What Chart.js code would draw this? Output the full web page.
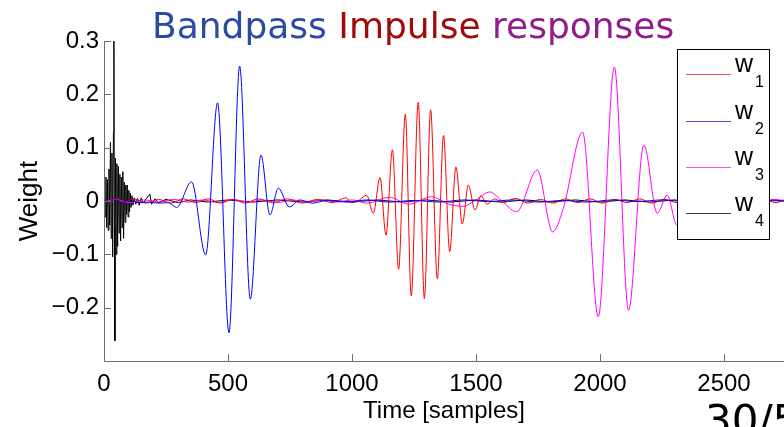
<!DOCTYPE html>
<html>
<head>
<meta charset="utf-8">
<script src="https://cdn.jsdelivr.net/npm/chart.js@4.4.1/dist/chart.umd.min.js"></script>
<style>
  html, body { margin: 0; padding: 0; background: #ffffff; }
  #wrap { position: relative; width: 784px; height: 427px; overflow: hidden; }
  canvas { display: block; }
</style>
</head>
<body>
<div id="wrap"><canvas id="c" width="784" height="427"></canvas></div>
<script>
// ---------------- data ----------------
const titleWords = ["Bandpass", "Impulse", "responses"];
const seriesNames = ["1", "2", "3", "4"];           // subscripts of w
const xTickValues = [0, 500, 1000, 1500, 2000, 2500];
const xTickLabels = ["0", "500", "1000", "1500", "2000", "2500"];
const yTickValues = [0.3, 0.2, 0.1, 0, -0.1, -0.2];
const yTickLabels = ["0.3", "0.2", "0.1", "0", "\u22120.1", "\u22120.2"];
const xAxisTitle = "Time [samples]";
const yAxisTitle = "Weight";
const pageNumber = "30/5";

// w1 (red)
const w1Samples = [0, 25, 50, 80, 120, 170, 220, 270, 320, 370, 420, 470, 520, 570, 620, 680, 740, 800, 860, 920, 975, 1000, 1030,
  1059, 1086, 1113, 1137, 1163, 1188, 1215, 1239, 1267, 1292, 1317, 1344, 1369, 1394, 1419, 1445, 1469, 1496,
  1520, 1545, 1575, 1610, 1660, 1710, 1760, 1810, 1860, 1910, 1960, 2010, 2060, 2110, 2160, 2210, 2260, 2310,
  2360, 2410, 2460, 2510, 2560, 2610, 2660, 2710, 2742];
const w1Values = [0.003, -0.004, 0.005, -0.003, 0.004, -0.004, 0.003, -0.004, 0.004, -0.003, 0.004, -0.004, 0.003, -0.004, 0.004, -0.003, 0.004, -0.004, 0.003, -0.003, 0.006, -0.003, 0.002,
  0.011, -0.023, 0.044, -0.064, 0.096, -0.128, 0.163, -0.178, 0.185, -0.183, 0.171, -0.146, 0.123, -0.095, 0.064, -0.043, 0.030, -0.017,
  0.010, -0.006, 0.004, -0.003, 0.005, -0.004, 0.003, -0.004, 0.004, -0.003, 0.004, -0.004, 0.003, -0.003, 0.004, -0.004, 0.003, -0.003,
  0.003, -0.004, 0.003, -0.003, 0.004, -0.003, 0.003, -0.003, 0.002];

// w2 (blue)
const w2Samples = [0, 20, 45, 70, 100, 140, 180, 220, 260, 293, 353, 410, 458, 504, 547, 590, 633, 669, 703, 747,
  790, 840, 900, 980, 1060, 1150, 1250, 1350, 1450, 1550, 1650, 1750, 1850, 1950, 2050, 2150, 2250, 2350, 2450, 2550, 2650, 2742];
const w2Values = [0.004, -0.003, 0.005, -0.004, 0.002, -0.003, -0.002, -0.004, -0.003, -0.012, 0.036, -0.101, 0.184, -0.247, 0.253, -0.184, 0.086, -0.026, 0.024, -0.011,
  0.002, -0.004, 0.001, -0.002, 0.002, -0.002, 0.001, -0.002, 0.002, -0.001, 0.002, -0.002, 0.001, -0.002, 0.002, -0.001, 0.002, -0.001, 0.001, -0.002, 0.001, 0.000];

// w3 (magenta)
const w3Samples = [0, 50, 100, 160, 220, 280, 340, 400, 460, 520, 580, 640, 700, 760, 820, 880, 940, 1000, 1060, 1150, 1230, 1320, 1390, 1448, 1500, 1556, 1600,
  1664, 1747, 1809, 1852, 1930, 1993, 2058, 2115, 2177, 2231, 2271, 2310, 2360, 2450, 2550, 2650, 2700, 2742];
const w3Values = [-0.002, 0.003, -0.003, 0.002, -0.002, 0.003, -0.002, 0.002, -0.003, 0.003, -0.002, 0.002, -0.003, 0.002, -0.002, 0.002, -0.002, 0.002, -0.004, 0.007, -0.006, 0.008, -0.006, -0.010, 0.002, 0.017, 0.002,
  -0.020, 0.058, -0.058, -0.014, 0.129, -0.217, 0.251, -0.205, 0.105, -0.023, 0.011, -0.045, 0.005, -0.003, 0.002, -0.002, 0.003, 0.001];

// w4 (black)
const w4Samples = [0, 2, 5, 8, 11, 14, 17, 20, 23, 26, 29, 32, 35, 38, 40, 42, 44, 46, 49, 52, 55, 58, 61, 64, 67, 70, 73, 76, 79, 82, 85, 88, 91, 94, 97, 100,
  103, 106, 109, 113, 117, 122, 128, 135, 142, 150, 158, 170, 185, 192, 205, 220, 250, 300, 350, 420, 500, 600, 700, 800, 900, 1000,
  1100, 1200, 1300, 1400, 1500, 1600, 1700, 1800, 1900, 2000, 2100, 2200, 2300, 2400, 2500, 2600, 2700, 2742];
const w4Values = [0.000, 0.035, -0.030, 0.045, -0.050, 0.040, -0.055, 0.060, -0.045, 0.110, -0.070, 0.090, -0.105, 0.130, 0.300, -0.050, -0.262, 0.080, -0.100, 0.070, -0.085, 0.065, -0.060, 0.050, -0.075, 0.045, -0.050, 0.055, -0.070, 0.035, -0.040, 0.030, -0.025, 0.030, -0.030, 0.020,
  -0.020, 0.015, -0.012, 0.010, -0.008, 0.006, -0.006, 0.005, -0.008, 0.006, -0.004, 0.004, 0.013, -0.006, 0.004, -0.003, 0.003, -0.003, 0.002, -0.002, 0.002, -0.002, 0.002, -0.002, 0.002, -0.002,
  0.002, -0.002, 0.002, -0.002, 0.002, -0.002, 0.002, -0.002, 0.002, -0.002, 0.002, -0.002, 0.002, -0.002, 0.002, -0.002, 0.002, 0.000];

const seriesColors = ["#ff0000", "#0000ff", "#ff00ff", "#000000"];
const titleColors = ["#2b4aa2", "#a10a0a", "#921c8c"];

function pts(xs, ys) { return xs.map((x, i) => ({ x: x, y: ys[i] })); }

const X_MAX = 2742;
const AXIS_GRAY = "#6e6e6e";
const TICK_FONT = "'Liberation Sans', Arial, sans-serif";

// -------- plugin: axes with inward ticks, legend box, title, page number --------
const decor = {
  id: "decor",
  afterDatasetsDraw(chart) {
    const ctx = chart.ctx;
    const xs = chart.scales.x, ys = chart.scales.y;
    const a = chart.chartArea;
    ctx.save();
    // axes
    ctx.strokeStyle = AXIS_GRAY;
    ctx.lineWidth = 1;
    ctx.beginPath();
    ctx.moveTo(a.left + 0.5, a.top);
    ctx.lineTo(a.left + 0.5, a.bottom + 0.5);
    ctx.lineTo(a.right, a.bottom + 0.5);
    ctx.stroke();
    ctx.beginPath();
    yTickValues.forEach(v => {
      const y = Math.round(ys.getPixelForValue(v)) + 0.5;
      ctx.moveTo(a.left, y); ctx.lineTo(a.left + 7, y);
    });
    xTickValues.forEach(v => {
      const x = Math.round(xs.getPixelForValue(v)) + 0.5;
      ctx.moveTo(x, a.bottom); ctx.lineTo(x, a.bottom - 7);
    });
    ctx.stroke();

    // legend box
    const lx = 677, ly = 49, lw = 92, lh = 190;
    ctx.fillStyle = "#ffffff";
    ctx.fillRect(lx, ly, lw, lh);
    ctx.strokeStyle = "#000000";
    ctx.strokeRect(lx + 0.5, ly + 0.5, lw, lh);
    const rowY = [74, 121, 167, 213];
    seriesNames.forEach((n, i) => {
      ctx.strokeStyle = seriesColors[i];
      ctx.globalAlpha = i === 3 ? 0.75 : 0.7;
      ctx.beginPath();
      ctx.moveTo(686, rowY[i] + 0.5);
      ctx.lineTo(731, rowY[i] + 0.5);
      ctx.stroke();
      ctx.globalAlpha = 1;
      ctx.fillStyle = "#000000";
      ctx.textAlign = "left";
      ctx.textBaseline = "alphabetic";
      ctx.font = "25px " + TICK_FONT;
      ctx.fillText("w", 735, rowY[i] - 2);
      ctx.font = "16px " + TICK_FONT;
      ctx.fillText(n, 755, rowY[i] + 13);
    });

    // title (three coloured words)
    ctx.font = "36px 'DejaVu Sans', sans-serif";
    ctx.textBaseline = "alphabetic";
    ctx.textAlign = "left";
    let tx = 152;
    const space = ctx.measureText(" ").width;
    titleWords.forEach((w, i) => {
      ctx.fillStyle = titleColors[i];
      ctx.fillText(w, tx, 38);
      tx += ctx.measureText(w).width + space;
    });

    // page number (cut off by the window)
    ctx.fillStyle = "#000000";
    ctx.font = "42px 'DejaVu Sans', sans-serif";
    ctx.fillText(pageNumber, 705, 435);
    ctx.restore();
  }
};

const common = { pointRadius: 0, pointHoverRadius: 0, borderWidth: 1, fill: false };

new Chart(document.getElementById("c"), {
  type: "line",
  data: {
    datasets: [
      Object.assign({ label: "w2", data: pts(w2Samples, w2Values), borderColor: seriesColors[1], cubicInterpolationMode: "monotone", order: 1 }, common),
      Object.assign({ label: "w1", data: pts(w1Samples, w1Values), borderColor: seriesColors[0], cubicInterpolationMode: "monotone", order: 2 }, common),
      Object.assign({ label: "w3", data: pts(w3Samples, w3Values), borderColor: seriesColors[2], cubicInterpolationMode: "monotone", order: 3 }, common),
      Object.assign({ label: "w4", data: pts(w4Samples, w4Values), borderColor: seriesColors[3], tension: 0, order: 4 }, common)
    ]
  },
  options: {
    responsive: false,
    animation: false,
    events: [],
    layout: { padding: { top: 41, left: 0, right: 0, bottom: 0 } },
    plugins: { legend: { display: false }, title: { display: false }, tooltip: { enabled: false } },
    scales: {
      x: {
        type: "linear",
        min: 0,
        max: X_MAX,
        afterFit(s) { s.height = 66; },
        afterBuildTicks(s) { s.ticks = xTickValues.map(v => ({ value: v })); },
        grid: { display: false, drawTicks: false },
        border: { display: false },
        ticks: {
          autoSkip: false,
          maxRotation: 0,
          padding: 9,
          color: "#000000",
          font: { family: TICK_FONT, size: 24 },
          callback: (v) => { const i = xTickValues.indexOf(v); return i >= 0 ? xTickLabels[i] : ""; }
        },
        title: {
          display: true,
          text: xAxisTitle,
          color: "#000000",
          font: { family: TICK_FONT, size: 24 },
          padding: { top: 0, bottom: 1 }
        }
      },
      y: {
        type: "linear",
        min: -0.3,
        max: 0.3,
        afterFit(s) { s.width = 104; },
        afterBuildTicks(s) { s.ticks = yTickValues.map(v => ({ value: v })); },
        grid: { display: false, drawTicks: false },
        border: { display: false },
        ticks: {
          autoSkip: false,
          padding: 5,
          color: "#000000",
          font: { family: TICK_FONT, size: 24 },
          callback: (v) => { const i = yTickValues.findIndex(t => Math.abs(t - v) < 1e-9); return i >= 0 ? yTickLabels[i] : ""; }
        },
        title: {
          display: true,
          text: yAxisTitle,
          color: "#000000",
          font: { family: TICK_FONT, size: 26 },
          padding: { top: 14, bottom: 0 }
        }
      }
    }
  },
  plugins: [decor]
});
</script>
</body>
</html>
